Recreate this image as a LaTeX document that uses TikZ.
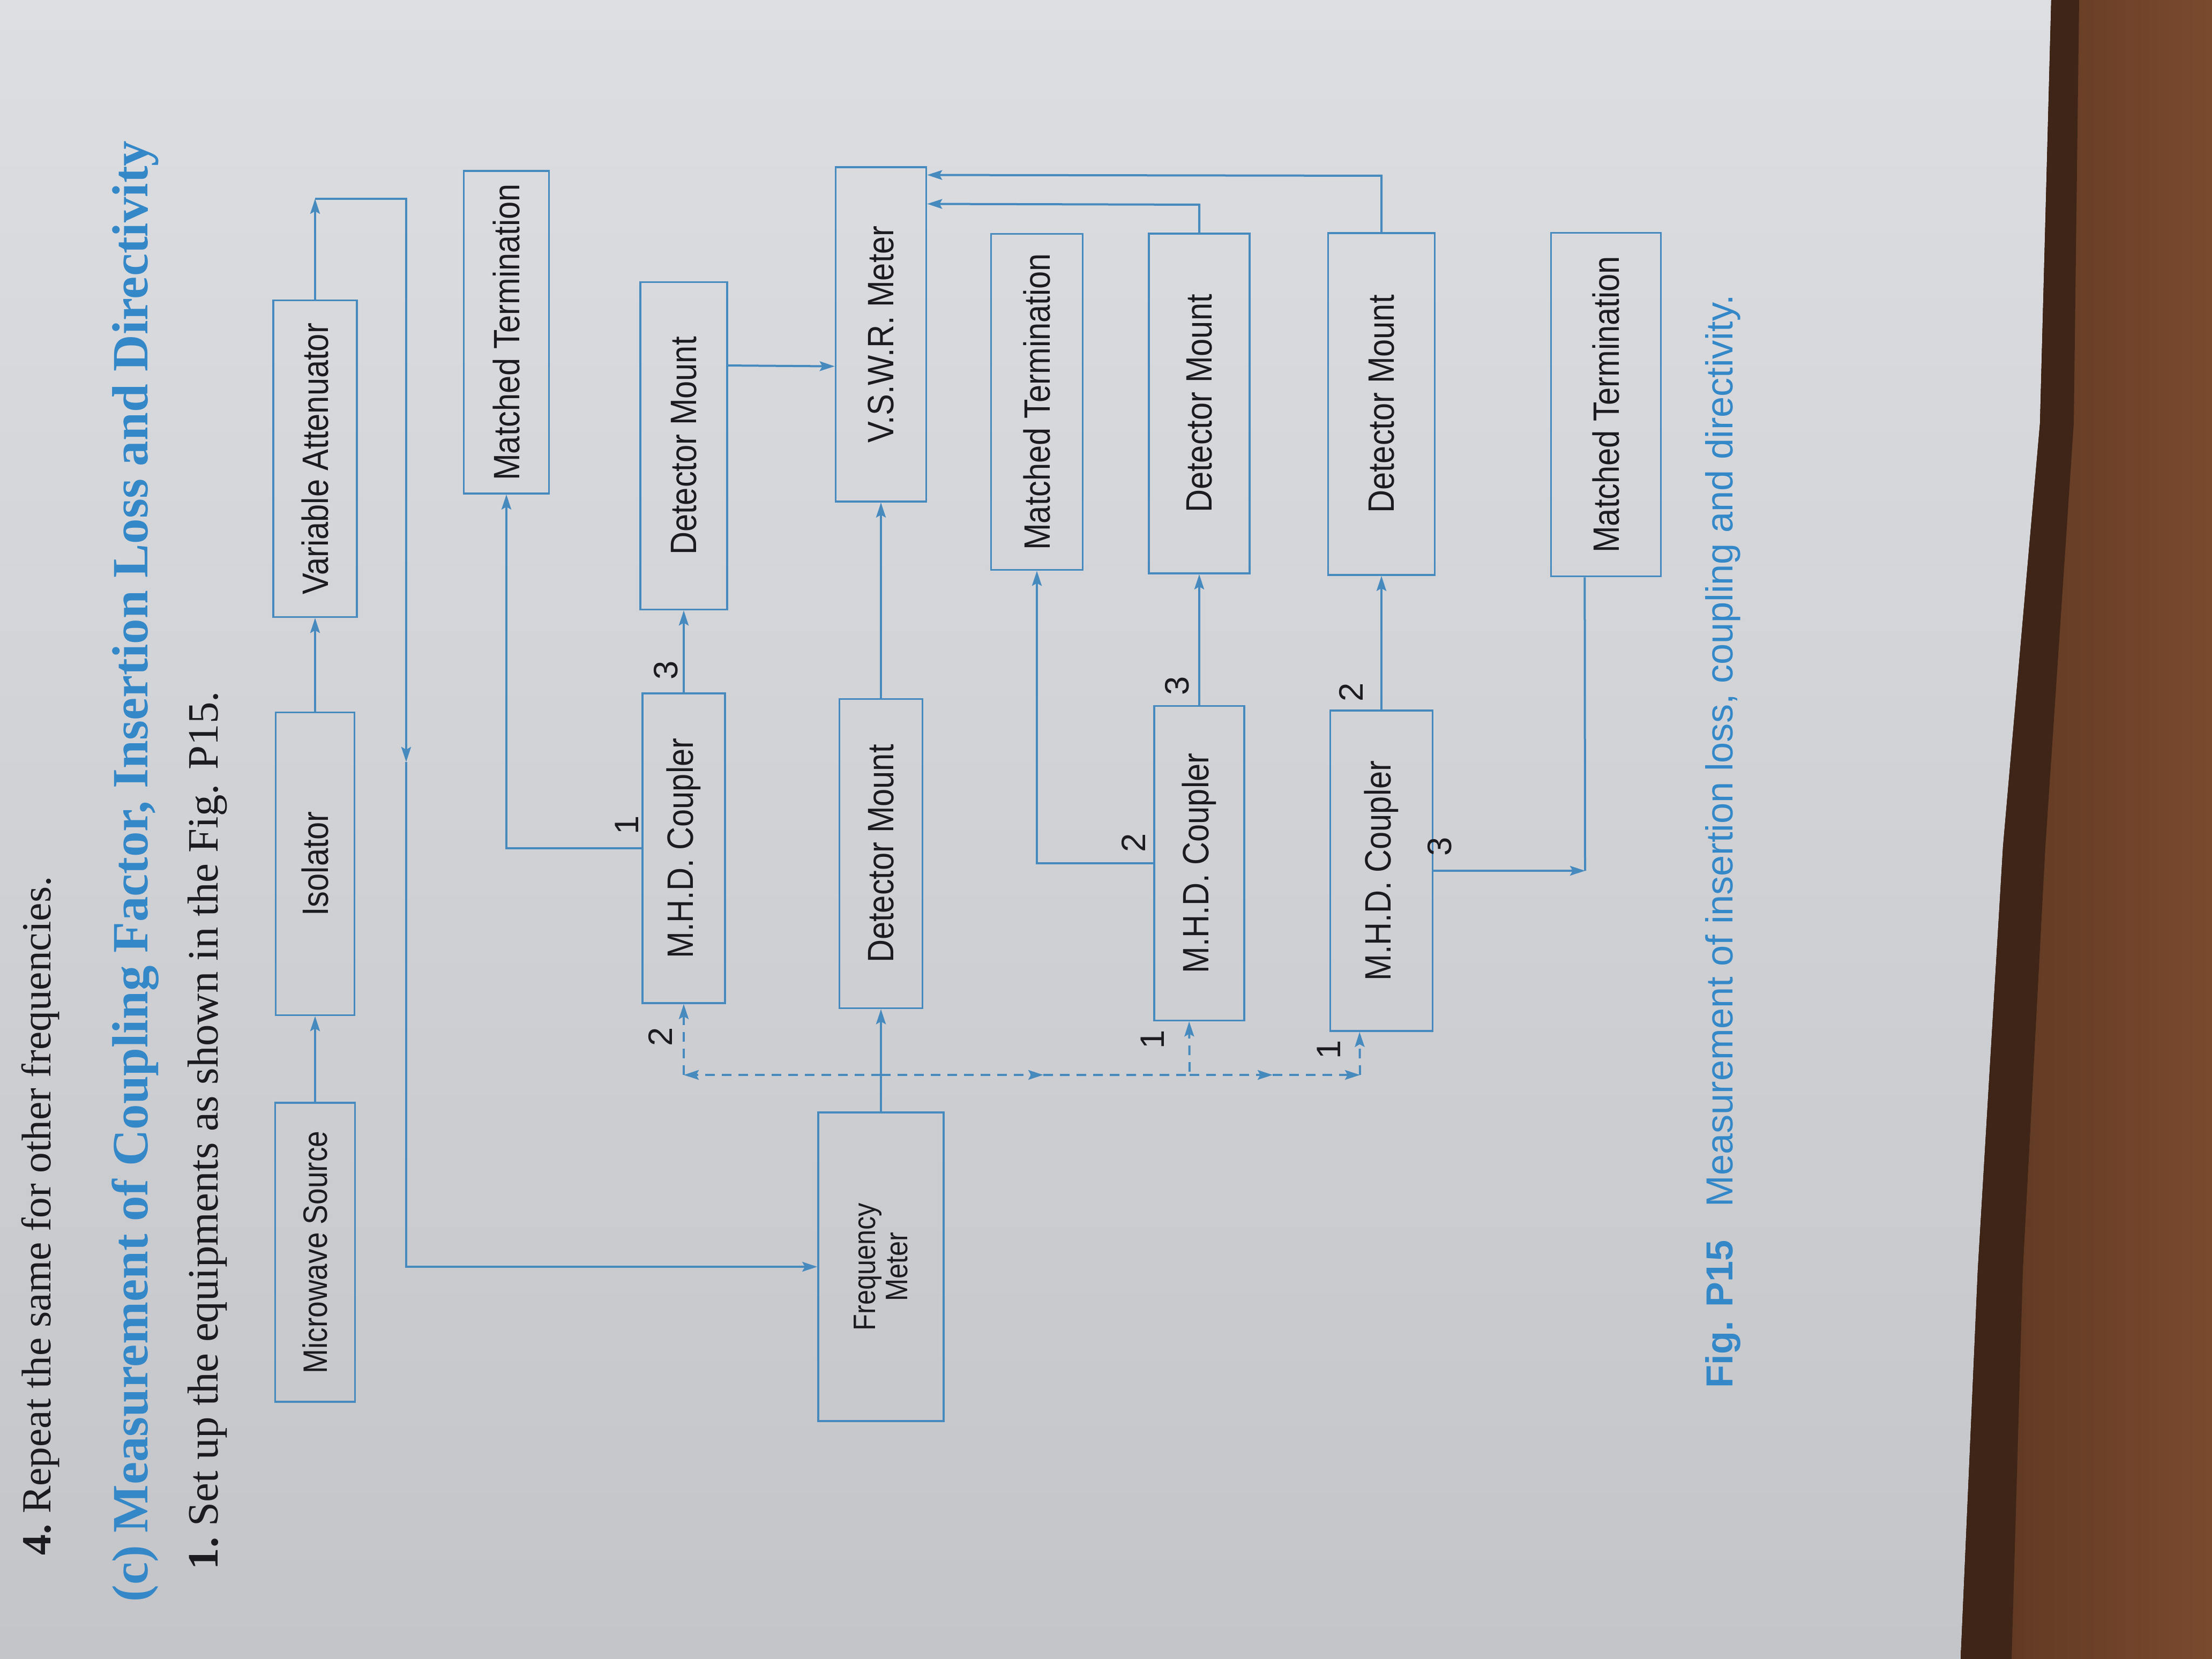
\documentclass[tikz,border=0pt]{standalone}
\usepackage{fontspec}
\setmainfont{Liberation Serif}
\newfontfamily\diafont[FakeStretch=0.87]{Liberation Sans}
\newfontfamily\capfont{Liberation Sans}
\usepackage{xcolor}
\usepackage{tikz}
\usetikzlibrary{arrows.meta,calc}

\definecolor{lineblue}{RGB}{70,138,190}
\definecolor{headblue}{RGB}{52,136,200}
\definecolor{inkgray}{RGB}{28,28,32}
\definecolor{pagetop}{RGB}{221,222,226}
\definecolor{pagebot}{RGB}{196,197,201}
\definecolor{woodA}{RGB}{92,54,33}
\definecolor{woodB}{RGB}{122,74,46}
\definecolor{wooddark}{RGB}{62,37,23}

\tikzset{
  block/.style={draw=lineblue, line width=0.35mm, rectangle, inner sep=0pt,
    text=inkgray, font=\diafont\fontsize{19.5}{22}\selectfont},
  wire/.style={draw=lineblue, line width=0.4mm},
  dashwire/.style={wire, dash pattern=on 1.8mm off 1.3mm},
  port/.style={text=inkgray, inner sep=0pt, font=\capfont\fontsize{18}{18}\selectfont},
  bookline/.style={anchor=base west, inner sep=0pt, text=inkgray},
}

\begin{document}
\begin{tikzpicture}[x=1mm, y=1mm, >={Stealth[length=2.8mm, width=1.8mm, inset=0.5mm]}]
    \useasboundingbox (0,0) rectangle (412.8,-309.6);
    % page and table
    \fill[top color=pagetop, bottom color=pagebot] (0,0) rectangle (412.8,-309.6);
    \fill[left color=woodA, right color=woodB] (382.8,0) -- (380.7,-79) -- (373.8,-158) -- (369.1,-236.9)
        -- (365.9,-309.6) -- (412.8,-309.6) -- (412.8,0) -- cycle;
    \fill[wooddark] (382.8,0) -- (380.7,-79) -- (373.8,-158) -- (369.1,-236.9) -- (365.9,-309.6)
        -- (375.4,-309.6) -- (377.5,-236.9) -- (381.7,-158) -- (387,-79) -- (388,0) -- cycle;

    \begin{scope}[shift={(412.8,-309.6)}, rotate=90, transform shape]
    % Text
    \node (rep) [bookline, font=\fontsize{22}{26}\selectfont] at (19.3,403.3)
        {\textbf{4.}\ Repeat the same for other frequencies.};
    \node (head) [bookline, text=headblue, font=\bfseries\fontsize{27}{30}\selectfont] at (10.6,385.3)
        {(c) Measurement of Coupling Factor, Insertion Loss and Directivity};
    \node (setup) [bookline, font=\fontsize{23}{26}\selectfont] at (16.6,372.2)
        {\textbf{1.}\ Set up the equipments as shown in the Fig. P15.};
    \node (cap) [bookline, text=headblue, font=\capfont\fontsize{20}{24}\selectfont] at (50.5,89.5)
        {\textbf{Fig. P15}\hspace{6.2mm}Measurement of insertion loss, coupling and directivity.};

    % Nodes
    \node (src) [block, minimum width=55.8mm, minimum height=14.9mm,
        font=\diafont\fontsize{18}{20}\selectfont] at (75.9,354) {Microwave Source};
    \node (iso) [block, minimum width=56.5mm, minimum height=14.7mm, right of=src, node distance=72.5mm] {Isolator};
    \node (att) [block, minimum width=59.1mm, minimum height=15.6mm, right of=iso, node distance=75.6mm] {Variable Attenuator};
    \node (mt1) [block, minimum width=60.2mm, minimum height=15.9mm] at (247.6,318.3) {Matched Termination};
    \node (dm1) [block, minimum width=61.1mm, minimum height=16.2mm] at (226.4,285.2) {Detector Mount};
    \node (cp1) [block, minimum width=57.8mm, minimum height=15.4mm] at (151.3,285.2) {M.H.D. Coupler};
    \node (fm) [block, minimum width=57.6mm, minimum height=23.4mm, align=center,
        font=\diafont\fontsize{16.5}{17}\selectfont] at (73.2,248.4) {Frequency\\Meter};
    \node (dm2) [block, minimum width=57.7mm, minimum height=15.5mm, right of=fm, node distance=77.1mm] {Detector Mount};
    \node (vswr) [block, minimum width=62.4mm, minimum height=16.9mm, right of=dm2, node distance=96.9mm] {V.S.W.R. Meter};
    \node (mt2) [block, minimum width=62.7mm, minimum height=17.1mm] at (234.6,219.3) {Matched Termination};
    \node (cp2) [block, minimum width=58.7mm, minimum height=16.8mm] at (148.5,189) {M.H.D. Coupler};
    \node (dm3) [block, minimum width=63.4mm, minimum height=18.8mm, right of=cp2, node distance=85.8mm] {Detector Mount};
    \node (cp3) [block, minimum width=59.8mm, minimum height=19.1mm] at (147.1,155) {M.H.D. Coupler};
    \node (dm4) [block, minimum width=63.8mm, minimum height=19.9mm, right of=cp3, node distance=87.1mm] {Detector Mount};
    \node (mt3) [block, minimum width=64.1mm, minimum height=20.5mm] at (234.1,113.1) {Matched Termination};

    % Port numbers
    \node (n11) [port] at (155.6,295.8) {1};
    \node (n12) [port] at (116.1,289.6) {2};
    \node (n13) [port] at (184.5,288.5) {3};
    \node (n21) [port] at (115.6,197.7) {1};
    \node (n22) [port] at (152.3,201.3) {2};
    \node (n23) [port] at (181.6,193.1) {3};
    \node (n31) [port] at (113.7,164.8) {1};
    \node (n32) [port] at (180.4,160.7) {2};
    \node (n33) [port] at (151.6,144.1) {3};

    % Corners
    \coordinate (a1) at (272.5,354);
    \coordinate (a2) at (272.5,337);
    \coordinate (a3) at (167.4,337);
    \coordinate (a4) at (73.2,337);
    \coordinate (b1) at (151.3,318.3);
    \coordinate (b2) at (148.5,219.3);
    \coordinate (b3) at (147.1,117);
    \coordinate (c1) at (271.4,189);
    \coordinate (c2) at (276.8,155);
    \coordinate (j0) at (109,248.4);
    \coordinate (d1) at (109,285.2);
    \coordinate (d2) at (109,218.1);
    \coordinate (d3) at (109,190.8);
    \coordinate (d4) at (109,175.3);
    \coordinate (d5) at (109,159);

    % Edges
    \draw[wire, ->] (src) -- (iso);
    \draw[wire, ->] (iso) -- (att);
    \draw[wire, ->] (att.east) -- (a1);
    \draw[wire, ->] (a1) -- (a2) -- (a3);
    \draw[wire, ->] (a3) -- (a4) -- (fm.north);
    \draw[wire, ->] (fm) -- (dm2);
    \draw[wire, ->] (dm2) -- (vswr);
    \draw[wire, ->] (cp1) -- (dm1);
    \draw[wire, ->] (cp1.north) -- (b1) -- (mt1.west);
    \draw[wire, ->] ($(dm1.south west)!0.744!(dm1.south east)$) -- ($(vswr.north west)!0.405!(vswr.north east)$);
    \draw[wire, ->] (dm3.east) -- (c1) -- ($(vswr.south west)!0.888!(vswr.south east)$);
    \draw[wire, ->] (dm4.east) -- (c2) -- ($(vswr.south west)!0.974!(vswr.south east)$);
    \draw[wire, ->] (cp2.north) -- (b2) -- (mt2.west);
    \draw[wire, ->] (cp2) -- (dm3);
    \draw[wire, ->] (cp3) -- (dm4);
    \draw[wire, ->] (cp3.south) -- (b3);
    \draw[wire] (b3) -- ($(mt3.south west)!0.69!(mt3.north west)$);

    % Dashed feed
    \draw[dashwire, ->] (j0) -- (d1);
    \draw[dashwire, ->] (d1) -- (cp1.west);
    \draw[dashwire, ->] (j0) -- (d2);
    \draw[dashwire, ->] (d2) -- (d3) -- ($(cp2.south west)!0.61!(cp2.north west)$);
    \draw[dashwire, ->] (d3) -- (d4);
    \draw[dashwire, ->] (d4) -- (d5);
    \draw[dashwire, ->] (d5) -- ($(cp3.south west)!0.71!(cp3.north west)$);
    \end{scope}
\end{tikzpicture}
\end{document}
